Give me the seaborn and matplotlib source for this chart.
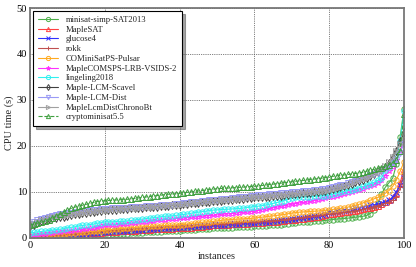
import matplotlib
matplotlib.use("Agg")
import matplotlib.pyplot as plt
import seaborn as sns
import numpy as np
import pandas as pd

instances = list(range(0, 101))

minisat = [0.0,0.05,0.1,0.1,0.15,0.2,0.2,0.25,0.25,0.3,0.3,
 0.35,0.4,0.4,0.45,0.5,0.5,0.55,0.6,0.65,0.7,
 0.7,0.75,0.8,0.85,0.9,0.95,1.0,1.05,1.1,1.15,
 1.2,1.2,1.25,1.3,1.35,1.4,1.45,1.5,1.55,1.6,
 1.65,1.7,1.75,1.8,1.85,1.9,1.95,2.0,2.05,2.1,
 2.15,2.2,2.2,2.25,2.3,2.3,2.35,2.4,2.45,2.5,
 2.55,2.6,2.65,2.7,2.8,2.85,2.9,3.0,3.1,3.2,
 3.3,3.35,3.4,3.5,3.55,3.6,3.7,3.75,3.8,3.9,
 4.0,4.1,4.15,4.2,4.3,4.4,4.5,4.6,4.7,4.9,
 5.3,6.0,7.5,9.5,11.0,12.0,13.0,16.0,22.0,28.0]

maplesat = [0.0,0.05,0.1,0.15,0.2,0.3,0.35,0.4,0.5,0.6,0.7,
 0.75,0.8,0.85,0.9,0.95,1.0,1.05,1.1,1.15,1.2,
 1.25,1.3,1.35,1.4,1.45,1.5,1.55,1.6,1.65,1.7,
 1.75,1.8,1.85,1.9,1.9,1.95,2.0,2.0,2.05,2.1,
 2.15,2.2,2.25,2.3,2.4,2.45,2.5,2.6,2.7,2.8,
 2.85,2.9,2.9,2.95,3.0,3.0,3.05,3.1,3.15,3.2,
 3.25,3.3,3.35,3.4,3.5,3.55,3.6,3.7,3.8,3.9,
 4.0,4.1,4.2,4.3,4.4,4.5,4.6,4.8,5.0,5.2,
 5.3,5.4,5.5,5.6,5.7,5.8,5.9,6.0,6.2,6.4,
 6.6,6.8,7.0,7.3,7.7,8.2,8.8,9.7,12.0,15.0]

glucose4 = [0.0,0.0,0.05,0.1,0.15,0.2,0.25,0.3,0.35,0.45,0.55,
 0.65,0.75,0.85,0.9,0.95,1.0,1.1,1.15,1.2,1.3,
 1.35,1.4,1.45,1.5,1.55,1.6,1.65,1.7,1.75,1.8,
 1.85,1.9,1.95,2.0,2.05,2.1,2.15,2.2,2.25,2.3,
 2.35,2.4,2.45,2.5,2.55,2.6,2.65,2.7,2.75,2.8,
 2.85,2.9,2.95,3.0,3.05,3.1,3.15,3.2,3.25,3.3,
 3.35,3.4,3.5,3.55,3.6,3.7,3.8,3.9,4.0,4.1,
 4.2,4.3,4.4,4.5,4.6,4.7,4.8,5.0,5.3,5.6,
 5.7,5.8,5.9,6.0,6.1,6.2,6.4,6.6,6.8,7.0,
 7.1,7.2,7.3,7.5,7.8,8.2,8.8,10.0,11.5,13.0]

rokk = [0.2,0.25,0.3,0.35,0.4,0.45,0.5,0.55,0.6,0.65,0.7,
 0.75,0.8,0.9,0.95,1.0,1.1,1.2,1.3,1.4,1.5,
 1.55,1.6,1.65,1.7,1.75,1.8,1.85,1.9,1.95,2.0,
 2.05,2.1,2.15,2.2,2.25,2.3,2.35,2.4,2.45,2.5,
 2.55,2.6,2.65,2.7,2.75,2.8,2.85,2.9,2.95,3.0,
 3.05,3.1,3.15,3.2,3.25,3.3,3.35,3.4,3.45,3.5,
 3.55,3.6,3.65,3.7,3.75,3.8,3.9,4.0,4.1,4.2,
 4.3,4.4,4.5,4.6,4.7,4.8,4.9,5.0,5.1,5.2,
 5.3,5.4,5.5,5.6,5.7,5.8,5.9,6.0,6.2,6.4,
 6.6,6.8,7.0,7.2,7.5,7.8,8.3,9.0,11.0,14.0]

cominisat = [0.4,0.45,0.5,0.55,0.6,0.65,0.7,0.75,0.85,0.9,1.0,
 1.05,1.1,1.2,1.25,1.3,1.4,1.45,1.5,1.6,1.7,
 1.8,1.85,1.9,2.0,2.1,2.15,2.2,2.3,2.35,2.4,
 2.45,2.5,2.55,2.6,2.65,2.7,2.7,2.75,2.8,2.85,
 2.9,3.0,3.1,3.2,3.3,3.4,3.45,3.5,3.6,3.7,
 3.8,3.9,3.95,4.0,4.05,4.1,4.15,4.2,4.25,4.3,
 4.4,4.5,4.6,4.7,4.8,4.9,5.0,5.1,5.25,5.4,
 5.5,5.6,5.65,5.7,5.75,5.8,5.85,5.9,6.0,6.1,
 6.2,6.3,6.4,6.5,6.7,6.9,7.1,7.3,7.6,7.9,
 8.2,8.5,8.8,9.2,9.7,10.3,11.2,12.6,14.5,16.5]

maplecomsps = [0.5,0.6,0.7,0.8,0.9,1.0,1.1,1.2,1.3,1.4,1.5,
 1.6,1.7,1.8,1.9,2.0,2.1,2.2,2.4,2.5,2.7,
 2.8,2.85,2.9,2.95,3.0,3.1,3.2,3.3,3.4,3.5,
 3.55,3.6,3.7,3.8,3.9,4.0,4.05,4.1,4.2,4.3,
 4.35,4.4,4.5,4.55,4.6,4.7,4.8,4.85,4.9,5.0,
 5.1,5.2,5.25,5.3,5.4,5.5,5.55,5.6,5.7,5.8,
 5.95,6.1,6.25,6.4,6.55,6.7,6.85,7.0,7.15,7.3,
 7.45,7.6,7.7,7.8,7.95,8.1,8.25,8.4,8.6,8.8,
 9.0,9.2,9.4,9.6,9.8,10.0,10.2,10.4,10.7,11.0,
 11.3,11.6,12.0,12.5,13.5,14.5,15.5,17.0,19.0,21.0]

lingeling = [1.1,1.2,1.3,1.4,1.5,1.6,1.7,1.8,1.9,2.0,2.2,
 2.3,2.4,2.6,2.7,2.8,2.9,3.0,3.2,3.3,3.5,
 3.5,3.5,3.55,3.6,3.6,3.7,3.8,3.9,4.0,4.1,
 4.2,4.3,4.4,4.5,4.6,4.7,4.75,4.8,4.9,5.0,
 5.1,5.2,5.35,5.5,5.6,5.7,5.8,5.95,6.05,6.1,
 6.15,6.2,6.25,6.3,6.35,6.4,6.5,6.6,6.7,6.8,
 6.9,7.0,7.15,7.3,7.5,7.7,7.9,8.1,8.4,8.7,
 8.8,8.85,8.9,8.95,9.0,9.05,9.1,9.15,9.2,9.3,
 9.5,9.7,9.9,10.1,10.3,10.5,10.7,10.9,11.2,11.5,
 11.8,12.1,12.5,13.0,14.8,15.5,16.5,18.0,21.0,27.5]

scavel = [2.5,2.9,3.3,3.6,3.9,4.2,4.3,4.4,4.5,4.65,4.8,
 4.95,5.1,5.2,5.35,5.5,5.6,5.7,5.8,5.9,6.0,
 6.05,6.1,6.15,6.2,6.25,6.3,6.4,6.45,6.5,6.6,
 6.65,6.7,6.75,6.8,6.9,6.95,7.0,7.05,7.1,7.2,
 7.3,7.4,7.5,7.55,7.6,7.7,7.8,7.9,8.0,8.0,
 8.1,8.2,8.25,8.3,8.4,8.45,8.5,8.6,8.7,8.8,
 8.85,8.9,8.95,9.0,9.1,9.15,9.2,9.3,9.4,9.5,
 9.55,9.6,9.7,9.75,9.8,9.9,10.0,10.1,10.2,10.4,
 10.6,10.8,11.0,11.2,11.5,11.8,12.1,12.4,12.7,13.0,
 13.4,13.8,14.3,14.8,15.5,16.3,17.5,19.0,21.0,23.0]

lcmdist = [3.0,3.4,3.8,4.1,4.4,4.6,4.8,5.0,5.1,5.25,5.4,
 5.5,5.6,5.7,5.8,5.9,6.0,6.05,6.1,6.2,6.3,
 6.35,6.4,6.45,6.5,6.55,6.6,6.65,6.7,6.75,6.8,
 6.85,6.9,6.95,7.0,7.05,7.1,7.15,7.2,7.3,7.4,
 7.5,7.6,7.7,7.8,7.9,8.0,8.1,8.2,8.25,8.3,
 8.4,8.5,8.55,8.6,8.7,8.8,8.9,9.0,9.1,9.2,
 9.3,9.35,9.4,9.5,9.55,9.6,9.7,9.75,9.8,9.9,
 10.0,10.05,10.1,10.2,10.3,10.35,10.45,10.55,10.65,10.8,
 11.0,11.2,11.4,11.6,11.85,12.1,12.4,12.7,13.0,13.3,
 13.6,13.9,14.2,14.6,15.0,15.5,16.2,17.0,18.5,20.5]

chronobt = [2.8,3.1,3.5,3.8,4.0,4.3,4.45,4.6,4.75,4.9,5.0,
 5.1,5.25,5.35,5.5,5.6,5.7,5.8,5.9,6.0,6.1,
 6.15,6.2,6.25,6.3,6.35,6.4,6.45,6.5,6.6,6.65,
 6.7,6.75,6.8,6.85,6.9,7.0,7.05,7.1,7.2,7.25,
 7.35,7.45,7.55,7.6,7.7,7.8,7.9,8.0,8.05,8.1,
 8.2,8.25,8.3,8.4,8.5,8.55,8.6,8.7,8.8,8.9,
 8.95,9.0,9.1,9.15,9.2,9.3,9.35,9.4,9.5,9.6,
 9.65,9.7,9.8,9.85,9.95,10.0,10.1,10.2,10.3,10.5,
 10.7,10.9,11.1,11.3,11.6,11.9,12.2,12.5,12.8,13.1,
 13.5,13.9,14.4,15.0,15.7,16.5,17.5,18.8,20.5,22.0]

crypto = [2.8,3.0,3.2,3.4,3.6,3.9,4.3,4.7,5.1,5.6,6.1,
 6.4,6.7,6.9,7.1,7.3,7.5,7.7,7.9,8.0,8.1,
 8.15,8.2,8.25,8.3,8.35,8.4,8.5,8.6,8.7,8.8,
 8.9,9.0,9.1,9.2,9.3,9.4,9.5,9.55,9.6,9.7,
 9.8,9.9,10.0,10.1,10.2,10.3,10.4,10.5,10.6,10.7,
 10.75,10.8,10.85,10.9,10.95,11.0,11.05,11.1,11.15,11.2,
 11.3,11.4,11.5,11.6,11.7,11.8,11.9,12.0,12.1,12.2,
 12.3,12.4,12.5,12.6,12.7,12.8,12.9,13.0,13.1,13.3,
 13.4,13.5,13.6,13.7,13.8,13.9,14.0,14.1,14.3,14.5,
 14.7,14.9,15.1,15.3,15.6,15.9,16.3,17.0,19.0,27.0]

solver_names = ["minisat-simp-SAT2013", "MapleSAT", "glucose4", "rokk",
                "COMiniSatPS-Pulsar", "MapleCOMSPS-LRB-VSIDS-2", "lingeling2018",
                "Maple-LCM-Scavel", "Maple-LCM-Dist", "MapleLcmDistChronoBt",
                "cryptominisat5.5"]
series = [minisat, maplesat, glucose4, rokk, cominisat, maplecomsps, lingeling,
          scavel, lcmdist, chronobt, crypto]

styles = [
    dict(color="#4daf4a", marker="o", ls="-"),
    dict(color="#ff4040", marker="^", ls="-"),
    dict(color="#3030ff", marker="x", ls="-"),
    dict(color="#c05050", marker="+", ls="-"),
    dict(color="#ffaa20", marker="o", ls="-"),
    dict(color="#ff30ff", marker="*", ls="-"),
    dict(color="#30f0f0", marker="o", ls="-"),
    dict(color="#404040", marker="d", ls="-"),
    dict(color="#9a9af5", marker="v", ls="-"),
    dict(color="#a0a0a0", marker=">", ls="-"),
    dict(color="#40a040", marker="^", ls="--"),
]

sns.set_style("white")
plt.rcParams["font.family"] = ["Liberation Serif", "DejaVu Serif"]

fig, ax = plt.subplots(figsize=(4.16, 2.67), dpi=100)
fig.subplots_adjust(left=0.072, right=0.971, bottom=0.109, top=0.970)

for name, vals, st in zip(solver_names, series, styles):
    df = pd.DataFrame({"instances": instances, "cpu": vals})
    filled = st["marker"] in ("x", "+")
    sns.lineplot(data=df, x="instances", y="cpu", ax=ax, color=st["color"],
                 linestyle=st["ls"], linewidth=0.8, marker=st["marker"],
                 markersize=3.8, markeredgewidth=0.7,
                 markerfacecolor=st["color"] if filled else "none",
                 markeredgecolor=st["color"], label=name)

ax.set_xlim(0, 100)
ax.set_ylim(0, 50)
ax.set_xticks([0, 20, 40, 60, 80, 100])
ax.set_yticks([0, 10, 20, 30, 40, 50])
ax.grid(True, color="#555555", linestyle=(0, (1, 1.2)), linewidth=0.6)
ax.set_axisbelow(True)
for sp in ax.spines.values():
    sp.set_color("#777777")
    sp.set_linewidth(1.3)
ax.tick_params(axis="both", labelsize=7.5, direction="in", length=3, width=0.6,
               colors="black", pad=2)
ax.set_xlabel("instances", fontsize=7.5, labelpad=2)
ax.set_ylabel("CPU time (s)", fontsize=7.5, labelpad=2)

leg = ax.legend(loc="upper left", fontsize=6.2, frameon=True, fancybox=False,
                shadow=True, handlelength=2.4, borderpad=0.55, labelspacing=0.2,
                handletextpad=0.9, borderaxespad=0.35, markerscale=0.8)
leg.get_frame().set_edgecolor("black")
leg.get_frame().set_linewidth(0.8)

fig.savefig("out.png", dpi=100)
